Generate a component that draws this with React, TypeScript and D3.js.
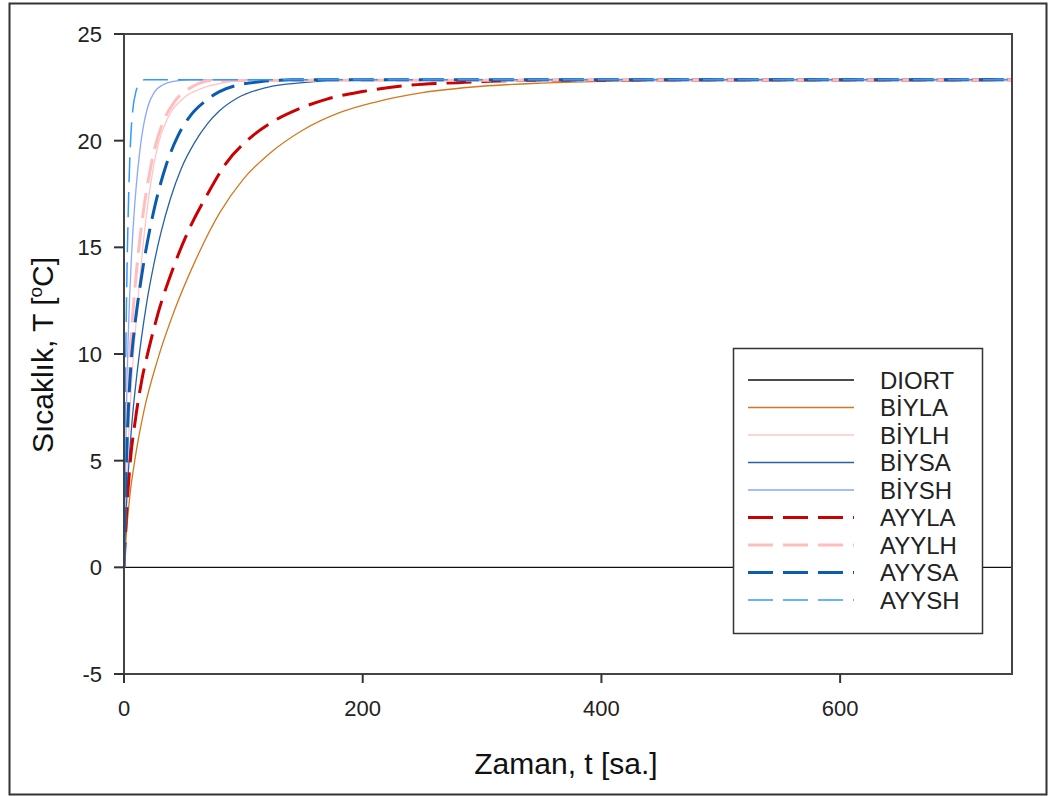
import React from "react";
import * as d3 from "d3";

const W = 1051;
const H = 796;

const xTicks = [0, 200, 400, 600];
const yTicks = [-5, 0, 5, 10, 15, 20, 25];
const xDomain = [0, 744];
const yDomain = [-5, 25];

// Series (t in hours, T in °C)
const diortT = [0, 744];
const diortV = [0, 0];

const biylaT = [0, 2, 5, 9, 17, 28, 42, 60, 80, 100, 122, 150, 180, 210, 250, 300, 350, 420, 500, 744];
const biylaV = [0, 1.6, 3.4, 5.0, 7.4, 9.7, 12.0, 14.4, 16.6, 18.2, 19.4, 20.5, 21.3, 21.8, 22.25, 22.55, 22.7, 22.8, 22.85, 22.85];

const biylhT = [0, 1.5, 4, 7, 10.3, 13.2, 16, 19, 23, 28.5, 37, 50, 65, 87, 110, 744];
const biylhV = [0, 3.0, 6.3, 9.2, 11.6, 13.5, 15.1, 16.6, 18.2, 19.8, 21.1, 22.0, 22.45, 22.75, 22.85, 22.85];

const biysaT = [0, 2, 4, 7, 10.5, 14.5, 19, 25, 31, 39, 48, 59, 70, 80, 95, 120, 150, 180, 744];
const biysaV = [0, 2.8, 4.8, 7.0, 8.9, 10.7, 12.4, 14.2, 15.7, 17.3, 18.7, 19.9, 20.8, 21.4, 22.0, 22.5, 22.72, 22.83, 22.85];

const biyshT = [0, 1, 2, 3.4, 4.8, 6.2, 8.1, 10.3, 13.2, 16, 20, 25.7, 32, 40, 55, 744];
const biyshV = [0, 4.0, 7.3, 10.6, 12.8, 14.5, 16.3, 17.9, 19.5, 20.6, 21.6, 22.3, 22.6, 22.77, 22.85, 22.85];

const ayylaT = [0, 2, 4.7, 10, 15, 21.5, 28.5, 41, 55, 70, 85, 105, 125, 147, 170, 200, 240, 280, 340, 744];
const ayylaV = [0, 2.4, 4.6, 7.1, 8.8, 10.4, 11.9, 14.0, 15.9, 17.5, 18.9, 20.1, 20.9, 21.5, 21.95, 22.3, 22.6, 22.72, 22.83, 22.85];

const ayylhT = [0, 1, 2, 3.5, 6, 8, 10.5, 13.5, 17.3, 21.5, 26, 31.5, 42, 58, 75, 744];
const ayylhV = [0, 3.5, 5.9, 8.3, 10.9, 12.3, 13.9, 15.5, 17.1, 18.5, 19.7, 20.7, 21.8, 22.55, 22.82, 22.85];

const ayysaT = [0, 1, 2, 4, 6, 9, 12, 16, 21.5, 27, 35, 45, 56, 68, 80, 95, 115, 140, 744];
const ayysaV = [0, 2.8, 4.9, 7.8, 9.6, 11.3, 12.6, 14.1, 15.8, 17.2, 18.8, 20.2, 21.2, 21.85, 22.3, 22.6, 22.77, 22.85, 22.85];

const ayyshT = [0, 0.5, 1, 1.7, 2.5, 3.4, 4.3, 5.6, 7.5, 10, 13, 17, 744];
const ayyshV = [0, 4.0, 7.5, 11.0, 13.9, 16.3, 18.2, 20.1, 21.5, 22.3, 22.7, 22.85, 22.85];

const seriesNames = ["DIORT", "BİYLA", "BİYLH", "BİYSA", "BİYSH", "AYYLA", "AYYLH", "AYYSA", "AYYSH"];
const seriesT = [diortT, biylaT, biylhT, biysaT, biyshT, ayylaT, ayylhT, ayysaT, ayyshT];
const seriesV = [diortV, biylaV, biylhV, biysaV, biyshV, ayylaV, ayylhV, ayysaV, ayyshV];
const seriesColor = ["#111111", "#d4781e", "#ffc6c6", "#2563a3", "#8aa6ff", "#cc0000", "#ffbdbd", "#0a5cb0", "#3399ff"];
const seriesWidth = [1.3, 1.3, 1.3, 1.3, 1.3, 3, 3, 3, 1.5];
const seriesDash = [null, null, null, null, null, "25 10", "25 10", "25 10", "25 10"];

const plot = { left: 124, top: 34, right: 1012, bottom: 674 };

export default function App() {
  const x = d3.scaleLinear().domain(xDomain).range([plot.left, plot.right]);
  const y = d3.scaleLinear().domain(yDomain).range([plot.bottom, plot.top]);
  const line = d3
    .line<[number, number]>()
    .x((d) => x(d[0]))
    .y((d) => y(d[1]))
    .curve(d3.curveMonotoneX);

  const font = "'Liberation Sans', Arial, sans-serif";
  const legX = 733;
  const legY = 348;
  const rowH = 27.5;

  return (
    <svg
      width={W}
      height={H}
      style={{ position: "absolute", left: 0, top: 0, background: "#fff" }}
      fontFamily={font}
    >
      <rect x={0} y={0} width={W} height={H} fill="#fff" />
      <rect x={9.5} y={3.5} width={1037} height={791} fill="none" stroke="#333" strokeWidth={2} />
      <defs>
        <clipPath id="clip">
          <rect x={plot.left} y={plot.top} width={plot.right - plot.left} height={plot.bottom - plot.top} />
        </clipPath>
      </defs>

      {/* series */}
      <g clipPath="url(#clip)">
        {seriesNames.map((name, i) => {
          const pts = seriesT[i].map((t, k) => [t, seriesV[i][k]] as [number, number]);
          return (
            <path
              key={name}
              d={line(pts) || ""}
              fill="none"
              stroke={seriesColor[i]}
              strokeWidth={seriesWidth[i]}
              strokeDasharray={seriesDash[i] || undefined}
            />
          );
        })}
      </g>

      {/* frame */}
      <rect
        x={plot.left}
        y={plot.top}
        width={plot.right - plot.left}
        height={plot.bottom - plot.top}
        fill="none"
        stroke="#444"
        strokeWidth={2}
      />

      {/* y ticks */}
      {yTicks.map((t) => (
        <g key={"y" + t}>
          <line x1={plot.left - 10} x2={plot.left} y1={y(t)} y2={y(t)} stroke="#333" strokeWidth={2} />
          <text x={102} y={y(t)} dy="0.36em" textAnchor="end" fontSize={22} fill="#222">
            {t}
          </text>
        </g>
      ))}
      {/* x ticks */}
      {xTicks.map((t) => (
        <g key={"x" + t}>
          <line x1={x(t)} x2={x(t)} y1={plot.bottom} y2={plot.bottom + 9} stroke="#333" strokeWidth={2} />
          <text x={x(t)} y={716} textAnchor="middle" fontSize={22} fill="#222">
            {t}
          </text>
        </g>
      ))}

      {/* axis titles */}
      <text x={566} y={774} textAnchor="middle" fontSize={30} fill="#111">
        Zaman, t [sa.]
      </text>
      <text transform={`translate(53,355) rotate(-90)`} textAnchor="middle" fontSize={30} fill="#111">
        Sıcaklık, T [<tspan dy={-11} fontSize={19}>o</tspan>
        <tspan dy={11}>C]</tspan>
      </text>

      {/* legend */}
      <rect x={legX + 0.5} y={legY + 0.5} width={249} height={285} fill="#fff" stroke="#333" strokeWidth={1.5} />
      {seriesNames.map((name, i) => {
        const ry = legY + 32 + i * rowH;
        return (
          <g key={"leg" + name}>
            <line
              x1={748}
              x2={854}
              y1={ry}
              y2={ry}
              stroke={seriesColor[i]}
              strokeWidth={seriesWidth[i]}
              strokeDasharray={seriesDash[i] || undefined}
            />
            <text x={880} y={ry} dy="0.36em" fontSize={24} fill="#222">
              {name}
            </text>
          </g>
        );
      })}
    </svg>
  );
}
